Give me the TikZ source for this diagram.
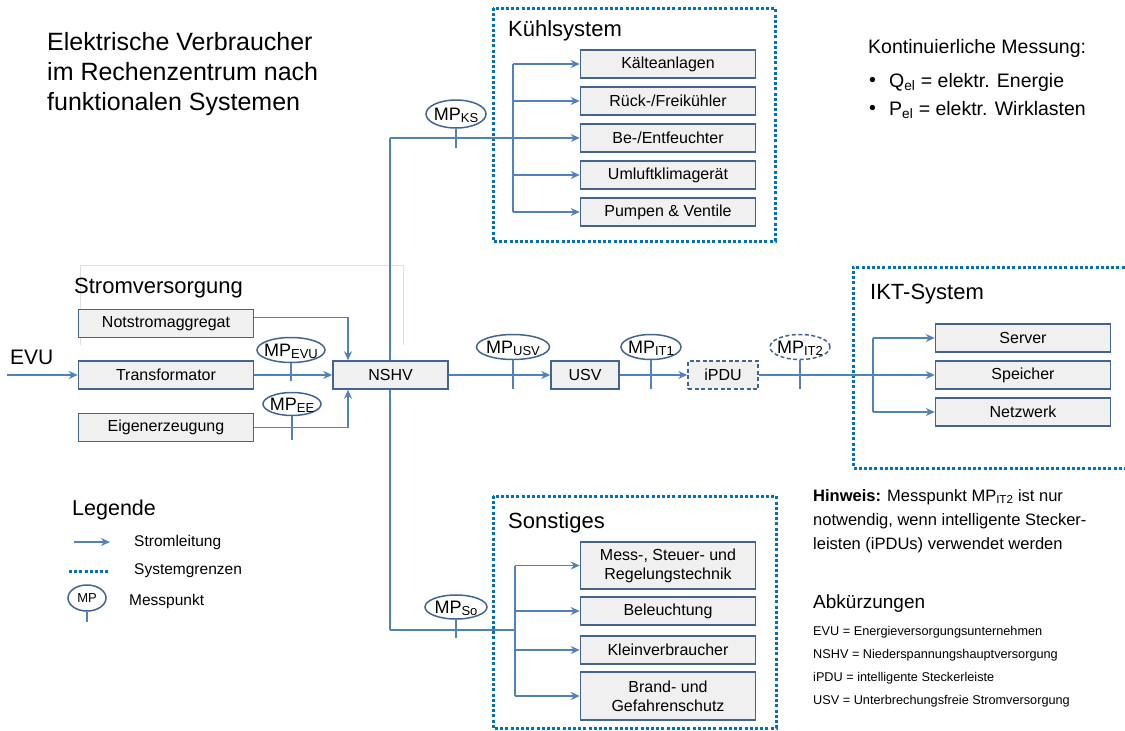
\documentclass[tikz,border=0pt]{standalone}
\usepackage{fontspec}
\setmainfont{Liberation Sans}
\usetikzlibrary{arrows.meta, shapes.geometric}

\definecolor{stromblau}{RGB}{79,129,189}
\definecolor{rahmenblau}{RGB}{65,100,145}
\definecolor{grenzblau}{RGB}{0,112,192}
\definecolor{boxgrau}{RGB}{240,240,240}

\begin{document}
\begin{tikzpicture}[x=1pt, y=-1pt, >={Stealth[length=9pt, width=8pt]}]
% --- Global Styles ---
\tikzstyle{leitung} = [draw=stromblau, line width=1.5pt]
\tikzstyle{pfeil} = [leitung, ->]
\tikzstyle{grenze} = [draw=grenzblau, line width=3pt, dash pattern=on 3pt off 2.2pt]
\tikzstyle{geraet} = [draw=rahmenblau, fill=boxgrau, line width=1.5pt, inner sep=0pt, minimum height=28pt, align=center, font=\fontsize{16}{19}\selectfont]
\tikzstyle{verbraucher} = [geraet, minimum width=175pt]
\tikzstyle{mp} = [ellipse, draw=rahmenblau, fill=white, line width=1.5pt, inner sep=0pt, minimum height=25pt, text height=12.9pt, text depth=0pt, font=\fontsize{18}{20}\selectfont]
\tikzstyle{systemtitel} = [anchor=west, inner sep=0pt, font=\fontsize{22}{26}\selectfont]
\tikzstyle{fliesstext} = [anchor=west, inner sep=0pt, align=left]

% --- Messpunkt label ---
\def\mpt#1{\makebox[0pt]{MP\raisebox{-2.5pt}{\fontsize{13}{13}\selectfont #1}}}

% --- Key Alignment Offsets ---
\def\xstamm{390}   % vertical trunk from NSHV
\def\xks{668}      % column of Kuehlsystem / Sonstiges boxes
\def\xikt{1023}    % column of IKT boxes
\def\yhaupt{375}   % main power line

\useasboundingbox (0,0) rectangle (1125,731);

% ==========================================
% BACKGROUND: frames and trunk
% ==========================================
\draw[gray!25, line width=0.8pt] (80,345) -- (80,265) -- (403,265) -- (403,345);

\draw[grenze] (493,8) rectangle (775,241);
\draw[grenze] (1135,267) -- (853,267) -- (853,468) -- (1135,468);
\draw[grenze] (493,496) rectangle (776,728);

\coordinate (ksknick) at (\xstamm,138);
\coordinate (soknick) at (\xstamm,630);
\draw[leitung] (ksknick) -- (soknick);

% ==========================================
% TITLE AND NOTES
% ==========================================
\node[fliesstext, font=\fontsize{25}{30}\selectfont] (titel) at (47,74) {Elektrische Verbraucher\\im Rechenzentrum nach\\funktionalen Systemen};

\node[fliesstext, font=\fontsize{19.5}{22}\selectfont] (messung) at (868,48) {Kontinuierliche Messung:};
\node[fliesstext, font=\fontsize{19.5}{22}\selectfont] (punktq) at (869,82) {•};
\node[fliesstext, font=\fontsize{19.5}{22}\selectfont] (qel) at (889,82) {Q\textsubscript{el} = elektr. Energie};
\node[fliesstext, font=\fontsize{19.5}{22}\selectfont] (punktp) at (869,110) {•};
\node[fliesstext, font=\fontsize{19.5}{22}\selectfont] (pel) at (889,110) {P\textsubscript{el} = elektr. Wirklasten};

\node[fliesstext, font=\fontsize{16.5}{24}\selectfont] (hinweis) at (813,521) {\textbf{Hinweis:} Messpunkt MP\textsubscript{IT2} ist nur\\notwendig, wenn intelligente Stecker-\\leisten (iPDUs) verwendet werden};

\node[fliesstext, font=\fontsize{19}{22}\selectfont] (abk) at (813,604) {Abkürzungen};
\node[fliesstext, font=\fontsize{12.7}{23}\selectfont] (abkliste) at (813,666.5) {EVU = Energieversorgungsunternehmen\\NSHV = Niederspannungshauptversorgung\\iPDU = intelligente Steckerleiste\\USV = Unterbrechungsfreie Stromversorgung};

% ==========================================
% STROMVERSORGUNG
% ==========================================
\node[systemtitel] (svtitel) at (74,288) {Stromversorgung};
\node[systemtitel, font=\fontsize{21}{24}\selectfont] (evu) at (10,357) {EVU};
\coordinate (evuein) at (7,\yhaupt);

\node[verbraucher] (notstrom) at (166,323.5) {Notstromaggregat};
\node[verbraucher] (trafo) at (166,\yhaupt) {Transformator};
\node[verbraucher] (eigen) at (166,427.5) {Eigenerzeugung};
\node[geraet, minimum width=115pt] (nshv) at (390.5,\yhaupt) {NSHV};

\node[mp, minimum width=68pt] (mpevu) at (291,350) {\mpt{EVU}};
\node[mp, minimum width=58pt, minimum height=23pt] (mpee) at (292,404) {\mpt{EE}};

\draw[pfeil] (evuein) -- (trafo);
\draw[pfeil] (trafo) -- (nshv);
\coordinate (einspeis) at (348,0);
\draw[pfeil] ([yshift=6pt]notstrom.east) -| (einspeis |- nshv.north);
\draw[pfeil] (eigen) -| (einspeis |- nshv.south);
\draw[leitung] (mpevu.south) -- ++(0,18);
\draw[leitung] (mpee.south) -- ++(0,24);

% ==========================================
% KUEHLSYSTEM
% ==========================================
\node[systemtitel] (kstitel) at (508,31) {Kühlsystem};
\node[verbraucher] (kaelte) at (\xks,64) {Kälteanlagen};
\node[verbraucher] (rueck) at (\xks,101) {Rück-/Freikühler};
\node[verbraucher] (bef) at (\xks,138) {Be-/Entfeuchter};
\node[verbraucher] (umluft) at (\xks,175) {Umluftklimagerät};
\node[verbraucher] (pumpen) at (\xks,212) {Pumpen \& Ventile};

\node[mp, minimum width=60pt, minimum height=28pt] (mpks) at (456,114) {\mpt{KS}};

\coordinate (ksbus) at (513,0);
\draw[pfeil] (ksknick) -- (bef);
\draw[leitung] (ksbus |- kaelte) -- (ksbus |- pumpen);
\foreach \v in {kaelte, rueck, umluft, pumpen}
  \draw[pfeil] (ksbus |- \v) -- (\v);
\draw[leitung] (mpks.south) -- ++(0,19);

% ==========================================
% SONSTIGES
% ==========================================
\node[systemtitel] (sotitel) at (508,523) {Sonstiges};
\node[verbraucher, minimum height=47pt] (msr) at (\xks,565.5) {Mess-, Steuer- und\\Regelungstechnik};
\node[verbraucher] (licht) at (\xks,611) {Beleuchtung};
\node[verbraucher] (klein) at (\xks,650) {Kleinverbraucher};
\node[verbraucher, minimum height=48pt] (brand) at (\xks,696) {Brand- und\\Gefahrenschutz};

\node[mp, minimum width=62pt, minimum height=24pt] (mpso) at (456,607) {\mpt{So}};

\coordinate (sobus) at (515,0);
\draw[leitung] (soknick) -- (sobus |- soknick);
\draw[leitung] (sobus |- msr) -- (sobus |- brand);
\foreach \v in {msr, licht, klein, brand}
  \draw[pfeil] (sobus |- \v) -- (\v);
\draw[leitung] (mpso.south) -- ++(0,18);

% ==========================================
% USV CHAIN AND IKT-SYSTEM
% ==========================================
\node[geraet, minimum width=68pt] (usv) at (585,\yhaupt) {USV};
\node[geraet, minimum width=70pt, dash pattern=on 4pt off 2.5pt] (ipdu) at (723,\yhaupt) {iPDU};

\node[mp, minimum width=73pt] (mpusv) at (513,347) {\mpt{USV}};
\node[mp, minimum width=60pt] (mpit1) at (651,347) {\mpt{IT1}};
\node[mp, minimum width=60pt, dash pattern=on 4pt off 2.5pt] (mpit2) at (800,347) {\mpt{IT2}};

\node[systemtitel] (ikttitel) at (870,294) {IKT-System};
\node[verbraucher] (server) at (\xikt,338) {Server};
\node[verbraucher] (speicher) at (\xikt,\yhaupt) {Speicher};
\node[verbraucher] (netz) at (\xikt,412) {Netzwerk};

\draw[pfeil] (nshv) -- (usv);
\draw[pfeil] (usv) -- (ipdu);
\draw[pfeil] (ipdu) -- (speicher);
\coordinate (iktbus) at (873,0);
\draw[leitung] (iktbus |- server) -- (iktbus |- netz);
\draw[pfeil] (iktbus |- server) -- (server);
\draw[pfeil] (iktbus |- netz) -- (netz);
\foreach \m in {mpusv, mpit1, mpit2}
  \draw[leitung] (\m.south) -- ++(0,29);

% ==========================================
% LEGENDE
% ==========================================
\node[fliesstext, font=\fontsize{21.5}{24}\selectfont] (legende) at (72,510) {Legende};
\coordinate (legpfeila) at (74,542);
\coordinate (legpfeilb) at (110,542);
\draw[pfeil] (legpfeila) -- (legpfeilb);
\node[fliesstext, font=\fontsize{15.5}{18}\selectfont] (legstrom) at (134,542) {Stromleitung};

\coordinate (leggrenzea) at (69,571);
\coordinate (leggrenzeb) at (110,571);
\draw[grenze] (leggrenzea) -- (leggrenzeb);
\node[fliesstext, font=\fontsize{15.5}{18}\selectfont] (leggrenze) at (134,571) {Systemgrenzen};

\node[mp, minimum width=38pt, minimum height=26pt, text height=9.3pt, font=\fontsize{13}{15}\selectfont] (legmp) at (87,598) {\makebox[0pt]{MP}};
\draw[leitung] (legmp.south) -- ++(0,10);
\node[fliesstext, font=\fontsize{15.5}{18}\selectfont] (legmess) at (129,601) {Messpunkt};

\end{tikzpicture}
\end{document}
